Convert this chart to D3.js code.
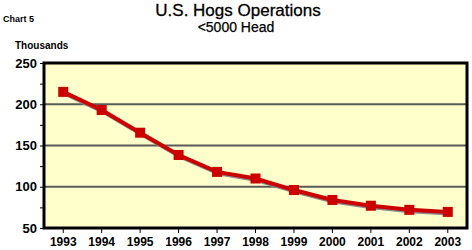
<!DOCTYPE html>
<html>
<head>
<meta charset="utf-8">
<script src="https://cdn.jsdelivr.net/npm/d3@7"></script>
<style>
  body { margin: 0; background: #fff; }
  text { font-family: "Liberation Sans", Arial, sans-serif; }
</style>
</head>
<body>
<script>
const years = ["1993","1994","1995","1996","1997","1998","1999","2000","2001","2002","2003"];
const operations = [215, 193, 165.5, 138.5, 118, 110, 96, 84, 77, 72, 69.5];
const yTicks = [50, 100, 150, 200, 250];
const gridValues = [100, 150, 200];

const W = 472, H = 250;
const m = {left: 44, right: 5, top: 63, bottom: 22};

const svg = d3.select("body").append("svg").attr("width", W).attr("height", H);

const x = d3.scaleBand().domain(years).range([m.left, W - m.right]);
const y = d3.scaleLinear().domain([50, 250]).range([H - m.bottom, m.top]);
const cx = d => x(d) + x.bandwidth() / 2;

// titles
svg.append("text").attr("x", 238).attr("y", 16).attr("text-anchor", "middle")
	.attr("font-size", 17).attr("stroke", "#000").attr("stroke-width", 0.3)
	.text("U.S. Hogs Operations");
svg.append("text").attr("x", 236).attr("y", 32).attr("text-anchor", "middle")
	.attr("font-size", 14).attr("stroke", "#000").attr("stroke-width", 0.25)
	.text("<5000 Head");
svg.append("text").attr("x", 3).attr("y", 22).attr("font-size", 9)
	.attr("font-weight", "bold").text("Chart 5");
svg.append("text").attr("x", 15).attr("y", 49).attr("font-size", 10)
	.attr("font-weight", "bold").text("Thousands");

// plot background
svg.append("rect")
	.attr("x", m.left).attr("y", m.top)
	.attr("width", W - m.left - m.right).attr("height", H - m.top - m.bottom)
	.attr("fill", "#ffffcc");

// grid
svg.selectAll(".grid").data(gridValues).enter().append("line")
	.attr("x1", m.left).attr("x2", W - m.right)
	.attr("y1", d => y(d)).attr("y2", d => y(d))
	.attr("stroke", "#5a5a5a").attr("stroke-width", 2);

// axes
const yAxis = svg.append("g").attr("transform", `translate(${m.left},0)`)
	.call(d3.axisLeft(y).tickValues(yTicks).tickSize(4).tickPadding(3));
yAxis.select(".domain").remove();
yAxis.selectAll("text").attr("font-size", 13).attr("font-weight", "bold")
	.style("font-family", "'Liberation Sans', Arial, sans-serif");

const yMinor = svg.append("g").attr("transform", `translate(${m.left},0)`)
	.call(d3.axisLeft(y).tickValues([75, 125, 175, 225]).tickSize(4).tickFormat(""));
yMinor.select(".domain").remove();

const xAxis = svg.append("g").attr("transform", `translate(0,${H - m.bottom})`)
	.call(d3.axisBottom(x).tickSize(5).tickPadding(4));
xAxis.select(".domain").remove();
xAxis.selectAll("text").attr("font-size", 12).attr("font-weight", "bold")
	.style("font-family", "'Liberation Sans', Arial, sans-serif");

// frame
svg.append("rect")
	.attr("x", m.left).attr("y", m.top)
	.attr("width", W - m.left - m.right).attr("height", H - m.top - m.bottom)
	.attr("fill", "none").attr("stroke", "#000").attr("stroke-width", 3);

// line with shadow
const line = d3.line().x((d, i) => cx(years[i])).y(d => y(d));
svg.append("path").datum(operations).attr("d", line)
	.attr("transform", "translate(1,2)")
	.attr("fill", "none").attr("stroke", "#8a8a8a").attr("stroke-width", 3);
svg.append("path").datum(operations).attr("d", line)
	.attr("fill", "none").attr("stroke", "#cc0000").attr("stroke-width", 4);

svg.selectAll(".pt").data(operations).enter().append("rect")
	.attr("x", (d, i) => cx(years[i]) - 5).attr("y", d => y(d) - 5)
	.attr("width", 10).attr("height", 10)
	.attr("fill", "#cc0000");
</script>
</body>
</html>
